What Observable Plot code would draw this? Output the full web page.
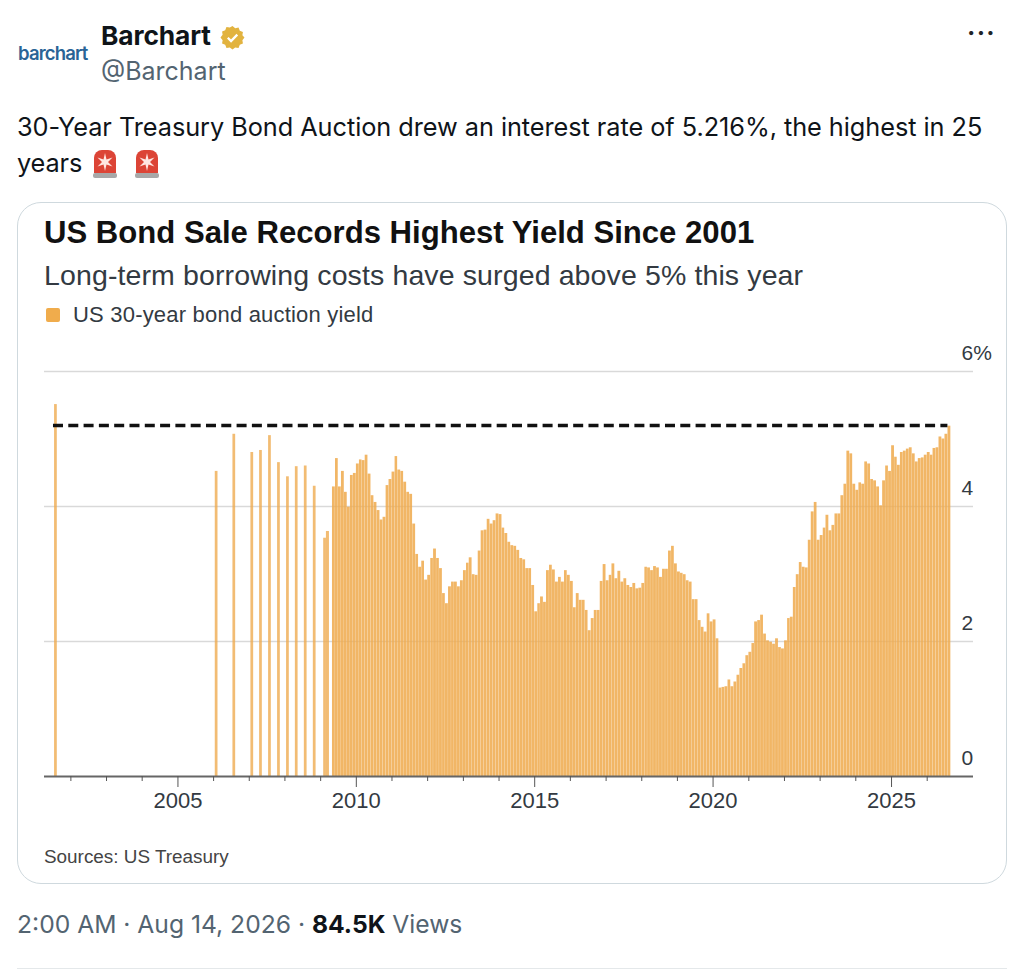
<!DOCTYPE html>
<html><head><meta charset="utf-8">
<script src="https://cdn.jsdelivr.net/npm/d3@7"></script>
<script src="https://cdn.jsdelivr.net/npm/@observablehq/plot@0.6"></script>
<style>
html,body{margin:0;padding:0;background:#fff;width:1024px;height:970px;overflow:hidden}
body{position:relative;font-family:Inter,"Noto Sans",sans-serif;color:#0f1419}
.a{position:absolute;white-space:nowrap;line-height:1}
#card{position:absolute;left:17px;top:202px;width:988px;height:680px;border:1.5px solid #cfd9de;border-radius:24px;background:#fff}
.c{font-family:"Liberation Sans",Arial,sans-serif}
#chart{position:absolute;left:18px;top:340px}
#chart svg{display:block;overflow:visible}
.siren{position:absolute;top:147px;width:30px;height:32px}
</style></head><body>
<div class="a" style="left:18px;top:44px;font-size:18.500px;font-weight:600;color:#2a6496;letter-spacing:-.85px">barchart</div>
<div class="a" style="left:101px;top:23px;font-size:26.3px;font-weight:700;letter-spacing:-.1px">Barchart</div>
<svg class="a" style="left:220px;top:25px" width="25" height="25" viewBox="0 0 24 24"><path fill="#e2b33f" d="M12 1l2.6 2 3.2-.5 1.2 3 3 1.2-.5 3.2L23.500 12l-2 2.600.5 3.200-3 1.200-1.200 3-3.200-.5L12 23.500l-2.600-2-3.200.5-1.200-3-3-1.200.5-3.200L.5 12l2-2.600-.5-3.200 3-1.200 1.200-3 3.200.5z"/><path fill="none" stroke="#fff" stroke-width="2.200" d="M7.500 12.300l3.100 3.100 6-6.200"/></svg>
<div class="a" style="left:101px;top:59px;font-size:25px;color:#536471">@Barchart</div>
<div class="a" style="left:967px;top:21px;font-size:25px;font-weight:700;letter-spacing:1.3px;color:#1f2428">···</div>
<div class="a" style="left:17px;top:114px;font-size:25.3px;letter-spacing:-.05px">30-Year Treasury Bond Auction drew an interest rate of 5.216%, the highest in 25</div>
<div class="a" style="left:17px;top:149.500px;font-size:25.3px;letter-spacing:-.1px">years</div>
<svg class="siren" style="left:90px" viewBox="0 0 30 32"><rect x="3" y="26" width="24" height="5" rx="2" fill="#a8a8a8"/><path d="M4 26V11a8 8 0 0 1 8-8h6a8 8 0 0 1 8 8v15z" fill="#dc4436"/><path d="M15 6l1.500 6.500 6-2-4.500 4.500 4.500 4.500-6-2-1.500 6.500-1.500-6.500-6 2 4.500-4.500-4.500-4.500 6 2z" fill="#ffe7e2"/></svg>
<svg class="siren" style="left:132px" viewBox="0 0 30 32"><rect x="3" y="26" width="24" height="5" rx="2" fill="#a8a8a8"/><path d="M4 26V11a8 8 0 0 1 8-8h6a8 8 0 0 1 8 8v15z" fill="#dc4436"/><path d="M15 6l1.500 6.500 6-2-4.500 4.500 4.500 4.500-6-2-1.500 6.500-1.500-6.500-6 2 4.500-4.500-4.500-4.500 6 2z" fill="#ffe7e2"/></svg>
<div id="card"></div>
<div class="a c" style="left:44px;top:217px;font-size:31.100px;font-weight:700;color:#111">US Bond Sale Records Highest Yield Since 2001</div>
<div class="a c" style="left:44px;top:261px;font-size:28.500px;color:#333a42;letter-spacing:.12px">Long-term borrowing costs have surged above 5% this year</div>
<div class="a" style="left:46px;top:308px;width:14px;height:14px;background:#f0ac4c;border-radius:2px"></div>
<div class="a c" style="left:73px;top:304px;font-size:22px;color:#333a42;letter-spacing:.2px">US 30-year bond auction yield</div>
<div id="chart"></div>
<div class="a c" style="left:44px;top:848px;font-size:18.900px;color:#444">Sources: US Treasury</div>
<div class="a" style="left:17px;top:912px;font-size:24.650px;color:#536471">2:00 AM · Aug 14, 2026 · <b style="color:#0f1419;font-weight:700">84.5K</b> Views</div>
<div class="a" style="left:17px;top:968px;width:990px;height:1px;background:#e4e8ea"></div>
<script>
// Isolated early auctions: [year, month (0-based)]
const earlyMonths = [[2001,7],[2006,1],[2006,7],[2007,1],[2007,4],[2007,7],[2007,10],[2008,1],[2008,4],[2008,7],[2008,10],[2009,1],[2009,2]];
const earlyYields = [5.51,4.52,5.07,4.80,4.83,5.05,4.65,4.44,4.59,4.60,4.30,3.53,3.63];
// Monthly auctions from May 2009 to August 2026
const monthlyStart = [2009,4];
const monthlyYields = [
4.29,4.71,4.29,4.52,4.21,3.99,4.46,4.49,4.63,4.69,4.68,4.76,4.48,4.16,4.06,3.94,3.80,3.84,4.31,4.40,
4.51,4.74,4.54,4.52,4.36,4.21,4.18,3.74,3.29,3.10,3.19,2.91,2.98,3.23,3.37,3.23,3.08,2.71,2.56,2.81,
2.88,2.88,2.81,2.90,3.05,3.16,3.24,2.99,2.98,3.34,3.64,3.65,3.81,3.74,3.79,3.89,3.88,3.68,3.60,3.47,
3.42,3.41,3.35,3.23,3.21,3.08,3.08,2.83,2.44,2.56,2.66,2.58,3.05,3.13,3.06,2.88,2.95,2.88,3.05,2.98,
2.89,2.50,2.71,2.61,2.61,2.46,2.16,2.34,2.46,2.46,2.89,3.14,2.90,2.98,3.15,2.93,3.04,2.88,2.93,2.83,
2.80,2.86,2.78,2.79,2.86,3.10,3.09,3.05,3.11,3.09,2.95,3.07,3.07,3.34,3.41,3.15,3.03,3.01,2.99,2.90,
2.88,2.62,2.62,2.31,2.21,2.14,2.41,2.29,2.32,2.04,1.31,1.32,1.33,1.43,1.33,1.40,1.50,1.60,1.67,1.79,
1.84,1.97,2.29,2.31,2.39,2.11,2.01,1.99,1.96,2.04,1.91,1.89,2.01,2.34,2.36,2.80,2.99,3.17,3.10,3.09,
3.50,3.92,4.06,3.50,3.57,3.68,3.87,3.64,3.72,3.89,3.89,4.16,4.33,4.82,4.78,4.33,4.24,4.35,4.33,4.66,
4.63,4.40,4.38,4.29,4.01,4.38,4.60,4.52,4.90,4.73,4.61,4.80,4.82,4.85,4.87,4.78,4.66,4.71,4.72,4.76,
4.80,4.76,4.86,4.87,5.03,5.00,5.07,5.19];
const referenceYield = 5.2;
const yTicks = [0,2,4,6];
const majorYears = [2005,2010,2015,2020,2025];
const allYears = [2002,2003,2004,2006,2007,2008,2009,2011,2012,2013,2014,2016,2017,2018,2019,2021,2022,2023,2024,2026];

const utc = (y,m=0,d=1) => new Date(Date.UTC(y,m,d));
const early = earlyMonths.map(([y,m],i) => ({x1:utc(y,m,-13), x2:utc(y,m,15), v:earlyYields[i]}));
early[early.length-2] = {x1:utc(2009,1,1), x2:utc(2009,2,1), v:earlyYields[early.length-2]};
early[early.length-1] = {x1:utc(2009,2,1), x2:utc(2009,3,1), v:earlyYields[early.length-1]};
const monthly = monthlyYields.map((v,i) => ({date:utc(monthlyStart[0],monthlyStart[1]+i), v}));
const last = monthly[monthly.length-1].date;
const font = '"Liberation Sans",Arial,sans-serif';
const chart = Plot.plot({
  width:988, height:500,
  marginLeft:26, marginRight:33, marginTop:31, marginBottom:64,
  style:{background:"transparent",fontFamily:font,overflow:"visible"},
  x:{type:"utc",domain:[utc(2001,3,6),utc(2027,3,20)]},
  y:{domain:[0,6]},
  marks:[
    Plot.gridY(yTicks.filter(d=>d>0),{stroke:"#d9d9d9",strokeOpacity:1,strokeWidth:1.5}),
    Plot.rectY(early,{x1:"x1",x2:"x2",y:"v",fill:"#eea94b",fillOpacity:0.78}),
    Plot.rectY(monthly,{x:"date",y:"v",interval:"month",fill:"#eea94b",fillOpacity:0.85,insetLeft:0.1,insetRight:0.1}),
    Plot.ruleY([0],{stroke:"#666",strokeWidth:2}),
    Plot.ruleY([referenceYield],{x1:utc(2001,6,7),x2:last,stroke:"#111",strokeWidth:3.5,strokeDasharray:"10,5.300"}),
    Plot.axisY(yTicks,{anchor:"right",tickSize:0,tickPadding:0,dx:-12,dy:-18,textAnchor:"start",
      tickFormat:d=>d===6?"6%":String(d),fontSize:21,fill:"#333a42",label:null}),
    Plot.axisX(allYears.map(y=>utc(y)),{tickSize:5,tickFormat:()=>"",stroke:"#555",label:null}),
    Plot.axisX(majorYears.map(y=>utc(y)),{tickSize:11,tickPadding:5,tickFormat:d=>String(d.getUTCFullYear()),
      fontSize:22,fill:"#333a42",stroke:"#555",label:null})
  ]
});
document.getElementById("chart").appendChild(chart);
</script>
</body></html>
